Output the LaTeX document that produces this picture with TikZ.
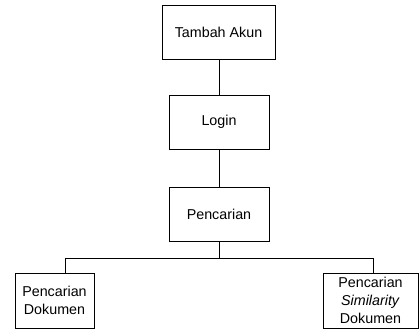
\documentclass[tikz,border=0pt]{standalone}
\usepackage{fontspec}
\setmainfont{Liberation Sans}
\begin{document}
\begin{tikzpicture}[x=1pt,y=-1pt,
  box/.style={draw,line width=0.9pt,inner sep=0pt,align=center,font=\fontsize{14.3}{18}\selectfont},
  conn/.style={line width=0.9pt}]
\useasboundingbox (0,0) rectangle (419,331);
\node[box,minimum width=113pt,minimum height=54pt] (A) at (218.5,32) {Tambah Akun};
\node[box,minimum width=100pt,minimum height=54pt] (B) at (219,122) {Login};
\node[box,minimum width=100pt,minimum height=54pt] (C) at (219,214) {Pencarian};
\node[box,minimum width=79pt,minimum height=55pt] (D) at (54.5,300.5) {Pencarian\\Dokumen};
\node[box,minimum width=95pt,minimum height=55pt] (E) at (370.5,300.5) {Pencarian\\\textit{Similarity}\\Dokumen};
\coordinate (J) at (219,258);
\coordinate (JL) at (65,258);
\coordinate (JR) at (373,258);
\draw[conn] (A.south -| B.north) -- (B.north);
\draw[conn] (B.south) -- (C.north);
\draw[conn] (C.south) -- (J);
\draw[conn] (JL) -- (JR);
\draw[conn] (JL) -- (JL |- D.north);
\draw[conn] (JR) -- (JR |- E.north);
\end{tikzpicture}
\end{document}
